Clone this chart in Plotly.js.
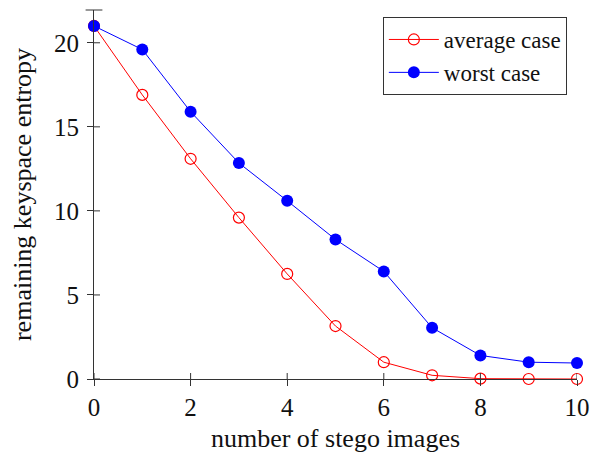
<!DOCTYPE html>
<html>
<head>
<meta charset="utf-8">
<script src="https://cdn.plot.ly/plotly-3.0.1.min.js"></script>
<style>html,body{margin:0;padding:0;background:#fff;}#chart{width:600px;height:454px;}</style>
</head>
<body>
<div id="chart"></div>
<script>
const images = [0, 1, 2, 3, 4, 5, 6, 7, 8, 9, 10];
const averageCase = [21.0, 16.9, 13.1, 9.6, 6.25, 3.15, 1.0, 0.22, 0.02, 0.0, 0.0];
const worstCase = [21.0, 19.6, 15.9, 12.85, 10.6, 8.3, 6.4, 3.05, 1.4, 1.0, 0.95];
const xTicks = [0, 2, 4, 6, 8, 10];
const yTicks = [0, 5, 10, 15, 20];

const FONT = "Liberation Serif";
const FS = 25;
const FT = 26;
const FL = 23;
const M = {l: 94, r: 23, t: 10, b: 75};
const W = 600, H = 454;
const pw = W - M.l - M.r, ph = H - M.t - M.b;
const TL = 6;

const traces = [
  {x: images, y: averageCase, name: 'average case', mode: 'lines+markers', cliponaxis: false,
   line: {color: '#ff0000', width: 1},
   marker: {symbol: 'circle-open', size: 11, color: '#ff0000', line: {width: 1.2, color: '#ff0000'}}},
  {x: images, y: worstCase, name: 'worst case', mode: 'lines+markers', cliponaxis: false,
   line: {color: '#0000ff', width: 1},
   marker: {symbol: 'circle', size: 12, color: '#0000ff'}}
];

const axisCommon = {showgrid: false, zeroline: false, showline: true, linecolor: '#333', linewidth: 1,
  ticks: 'outside', ticklen: TL, tickcolor: '#333', tickwidth: 1,
  tickfont: {family: FONT, size: FS, color: '#111'}};

const shapes = [{type: 'line', xref: 'paper', yref: 'paper', x0: -TL / pw * 1.4, x1: TL / pw * 1.4, y0: 1, y1: 1,
  line: {color: '#333', width: 1}}];
xTicks.forEach(v => shapes.push({type: 'line', xref: 'x', yref: 'paper', x0: v, x1: v, y0: 0, y1: TL / ph,
  line: {color: '#333', width: 1}}));
yTicks.forEach(v => shapes.push({type: 'line', xref: 'paper', yref: 'y', y0: v, y1: v, x0: 0, x1: TL / pw,
  line: {color: '#333', width: 1}}));

const layout = {
  width: W, height: H,
  margin: M,
  paper_bgcolor: '#fff', plot_bgcolor: '#fff',
  font: {family: FONT, size: FS, color: '#111'},
  xaxis: Object.assign({}, axisCommon, {range: [0, 10], tickvals: xTicks, ticktext: xTicks.map(String),
    ticklabelstandoff: 0,
    title: {text: 'number of stego images', font: {family: FONT, size: FT, color: '#111'}, standoff: 8}}),
  yaxis: Object.assign({}, axisCommon, {range: [0, 21.95], tickvals: yTicks, ticktext: yTicks.map(String),
    ticklabelstandoff: 3,
    title: {text: 'remaining keyspace entropy', font: {family: FONT, size: FT, color: '#111'}, standoff: 14}}),
  legend: {x: 0.979, y: 0.981, xanchor: 'right', yanchor: 'top', bgcolor: '#fff', bordercolor: '#333', borderwidth: 1,
    font: {family: FONT, size: FL, color: '#111'}, tracegroupgap: 0, itemwidth: 50},
  shapes: shapes,
  showlegend: true
};

Plotly.newPlot('chart', traces, layout, {displayModeBar: false, staticPlot: true});
</script>
</body>
</html>
